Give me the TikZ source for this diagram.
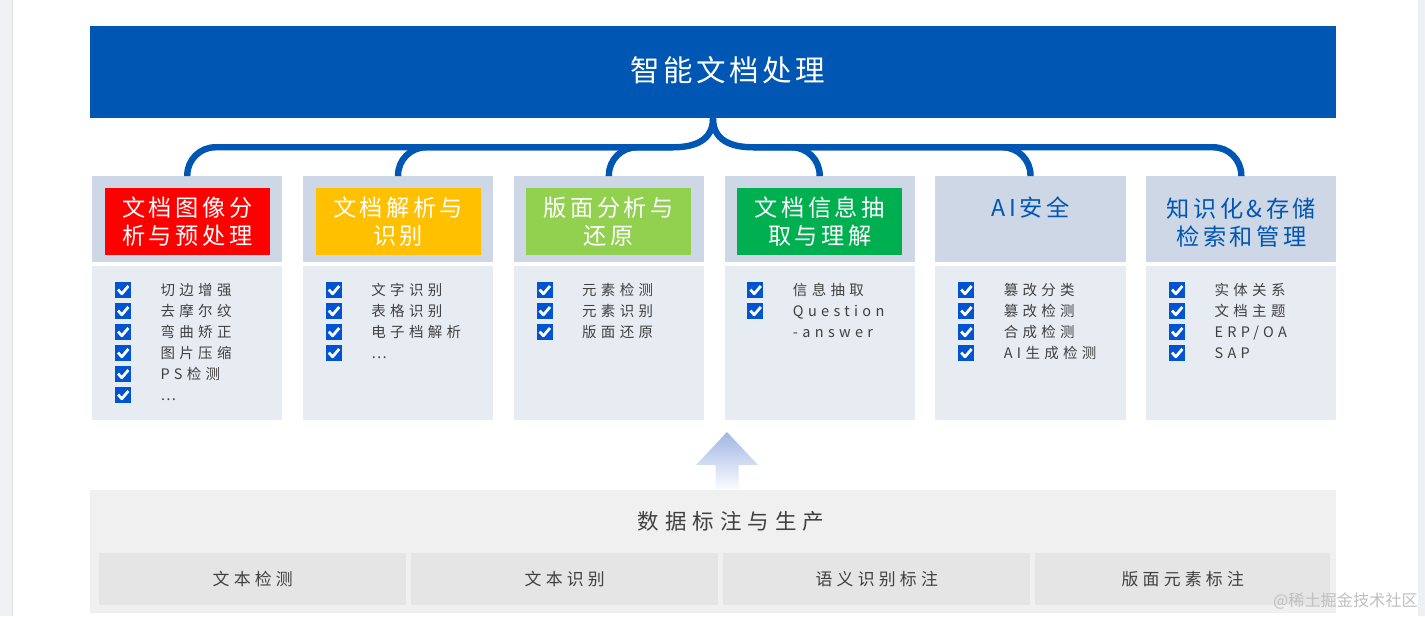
\documentclass[tikz,border=0pt]{standalone}
\usepackage{fontspec}
\setmainfont{Noto Sans CJK SC}
\usetikzlibrary{positioning, calc}

\definecolor{titleblue}{RGB}{0,86,179}
\definecolor{headgray}{RGB}{205,215,230}
\definecolor{bodygray}{RGB}{231,236,243}
\definecolor{checkblue}{RGB}{0,84,210}
\definecolor{tagred}{RGB}{255,0,0}
\definecolor{tagyellow}{RGB}{255,192,0}
\definecolor{taglime}{RGB}{146,208,80}
\definecolor{taggreen}{RGB}{0,176,80}
\definecolor{textgray}{RGB}{64,64,64}
\definecolor{panelgray}{RGB}{240,240,240}
\definecolor{cellgray}{RGB}{229,229,229}
\definecolor{edgegray}{RGB}{238,240,243}
\definecolor{arrowblue}{RGB}{160,182,228}

\tikzset{
  titlebox/.style={fill=titleblue, minimum width=311.5mm, minimum height=23mm, inner sep=0},
  titletext/.style={text=white, inner sep=0, font=\fontsize{21}{25}\selectfont\addfontfeature{LetterSpace=12}},
  headbox/.style={fill=headgray, minimum width=47.5mm, minimum height=21.5mm, inner sep=0, anchor=north west},
  bodybox/.style={fill=bodygray, minimum width=47.5mm, minimum height=38.5mm, inner sep=0, anchor=north west},
  tagbox/.style={fill=#1, minimum width=41.25mm, minimum height=16.75mm, inner sep=0, text=white, align=center,
    font=\fontsize{16.5}{20}\selectfont\addfontfeature{LetterSpace=15}},
  headtext/.style={text=titleblue, align=center, inner sep=0,
    font=\fontsize{16.5}{20}\selectfont\addfontfeature{LetterSpace=15}},
  checkbox/.style={fill=checkblue, minimum size=4mm, inner sep=0,
    path picture={\draw[white, line width=0.7mm, line join=round]
      ([shift={(0.75mm,2.1mm)}]path picture bounding box.south west) --
      ([shift={(1.7mm,1.05mm)}]path picture bounding box.south west) --
      ([shift={(3.35mm,3mm)}]path picture bounding box.south west);}},
  itemtext/.style={anchor=west, text=textgray, inner sep=0, text height=3.1mm, text depth=0.4mm,
    font=\fontsize{10.3}{12}\selectfont\addfontfeature{LetterSpace=30}},
  brace/.style={draw=titleblue, line width=1.6mm},
  panel/.style={fill=panelgray, minimum width=311.5mm, minimum height=30.75mm, inner sep=0, anchor=north west},
  cell/.style={fill=cellgray, minimum height=13mm, inner sep=0, anchor=north west, text=textgray,
    font=\fontsize{12}{14}\selectfont\addfontfeature{LetterSpace=25}},
}

\begin{document}
\begin{tikzpicture}[x=0.25mm, y=-0.25mm]
\useasboundingbox (0,0) rectangle (1425,616);

% page edges
\fill[edgegray] (0,0) rectangle (12,616);
\draw[black!12] (12,0) -- (12,616);
\fill[edgegray] (1418,0) rectangle (1425,616);

% Top title
\node[titlebox] (title) at (713,72) {};
\node[titletext] (titletext) at (728,70) {智能文档处理};

% Columns
\foreach \i in {1,...,6} {
    \node[headbox] (h\i) at ({92+210.8*(\i-1)},176) {};
    \node[bodybox] (b\i) at ({92+210.8*(\i-1)},266) {};
}
\node[tagbox=tagred] (t1) at ($(h1.center)+(0,2)$) {文档图像分\\析与预处理};
\node[tagbox=tagyellow] (t2) at ($(h2.center)+(0,2)$) {文档解析与\\识别};
\node[tagbox=taglime] (t3) at ($(h3.center)+(0,2)$) {版面分析与\\还原};
\node[tagbox=taggreen] (t4) at ($(h4.center)+(0,2)$) {文档信息抽\\取与理解};
\node[headtext] (t5) at ($(h5.north)+(0,32)$) {AI安全};
\node[headtext] (t6) at ($(h6.center)+(0,3)$) {知识化\&存储\\检索和管理};

% Check lists
\foreach \i/\items in {1/{切边增强,去摩尔纹,弯曲矫正,图片压缩,PS检测,\ldots},
                       2/{文字识别,表格识别,电子档解析,\ldots},
                       3/{元素检测,元素识别,版面还原},
                       4/{信息抽取,Question},
                       5/{篡改分类,篡改检测,合成检测,AI生成检测},
                       6/{实体关系,文档主题,ERP/OA,SAP}} {
    \foreach \t [count=\k] in \items {
        \node[checkbox] (c\i-\k) at ({92+210.8*(\i-1)+31},{290+21*(\k-1)}) {};
        \node[itemtext, right=7.25mm of c\i-\k] (x\i-\k) {\t};
    }
}
\node[itemtext] (x4-3) at ($(x4-2.west)+(0,21)$) {-answer};

% Brace from title to columns
\coordinate (jl) at ($(title.south)+(-40,29)$);
\coordinate (jr) at ($(title.south)+(40,29)$);
\draw[brace] (title.south) .. controls ($(title.south)+(0,22)$) and ($(jl)+(22,0)$) .. (jl);
\draw[brace] (title.south) .. controls ($(title.south)+(0,22)$) and ($(jr)+(-22,0)$) .. (jr);
\foreach \i in {1,2,3} \draw[brace, rounded corners=7mm] (jl) -| (h\i.north);
\foreach \i in {4,5,6} \draw[brace, rounded corners=7mm] (jr) -| (h\i.north);

% Up arrow
\shade[top color=arrowblue, bottom color=white]
    (727,432) -- (758,465) -- (738.5,465) -- (738.5,492) -- (715.5,492) -- (715.5,465) -- (696,465) -- cycle;

% Data panel
\node[panel] (data) at (90,490) {};
\node[text=textgray, inner sep=0, font=\fontsize{15.3}{18}\selectfont\addfontfeature{LetterSpace=28}] (datatitle) at (731,521) {数据标注与生产};
\foreach \j/\x/\w/\lbl in {1/99/307/文本检测, 2/411/307/文本识别, 3/723/307/语义识别标注, 4/1035/295/版面元素标注} {
    \node[cell, minimum width=\w*0.25mm] (d\j) at (\x,553) {\lbl};
}

% watermark
\node[text=black!25, inner sep=0, anchor=east, font=\fontsize{11.5}{13}\selectfont] (mark) at (1418,601) {@稀土掘金技术社区};

\end{tikzpicture}
\end{document}
